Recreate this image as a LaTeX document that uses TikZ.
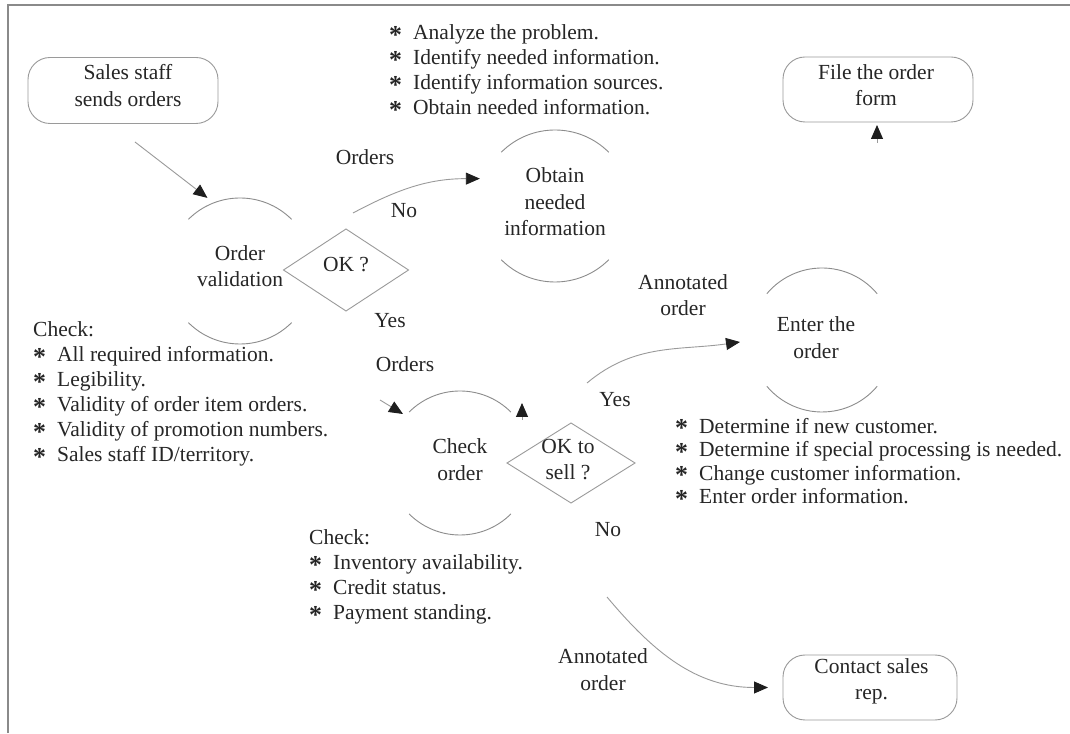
\documentclass[tikz,border=0pt]{standalone}
\usepackage{graphicx}
\usepackage{fontspec}
\setmainfont{Liberation Serif}
\usetikzlibrary{arrows.meta,shapes.geometric}

\definecolor{ink}{HTML}{262626}
\definecolor{edge}{HTML}{9A9A9A}
\definecolor{arcc}{HTML}{8C8C8C}
\definecolor{tipc}{HTML}{1E1E1E}
\definecolor{framec}{HTML}{8A8A8A}

\tikzset{
  txt/.style={font=\fontsize{21.5}{26.5}\selectfont, text=ink, inner sep=0pt, align=center},
  listtxt/.style={font=\fontsize{21.5}{25}\selectfont, text=ink, inner sep=0pt, align=left, anchor=north west},
  terminal/.style={draw=edge, line width=0.9pt, rounded corners=22pt, inner sep=0pt, outer sep=0pt},
  proc/.style={circle, inner sep=0pt, outer sep=0pt, minimum size=#1},
  decision/.style={diamond, draw=edge, line width=0.9pt, inner sep=0pt, outer sep=0pt},
  flow/.style={draw=edge, line width=0.9pt, -{Triangle[length=14pt,width=12pt,color=tipc]}},
  arcline/.style={draw=arcc, line width=0.9pt},
}

% one bullet line of a check list
\newcommand\itm[1]{\makebox[24pt][l]{\raisebox{-3.5pt}{\scalebox{1.2}{\textbf{*}}}}#1}
% top and bottom arcs of a process circle: node, radius, start angle
\newcommand\procarcs[3]{%
  \draw[arcline] ([shift={(#3:#2)}]#1.center) arc[start angle=#3, end angle=180-#3, radius=#2];
  \draw[arcline] ([shift={(180+#3:#2)}]#1.center) arc[start angle=180+#3, end angle=360-#3, radius=#2];
}

\begin{document}
\begin{tikzpicture}[x=1pt,y=1pt]
\useasboundingbox (0,0) rectangle (1070,733);
\fill[white] (0,0) rectangle (1070,733);

% page frame
\draw[framec, line width=1.2pt] (8,0) -- (8,728) -- (1070,728);

% terminals
\node[terminal, minimum width=190pt, minimum height=66pt,
      label={[txt, xshift=5pt, yshift=5pt]center:Sales staff\\sends orders}] (sales) at (123,642.5) {};
\node[terminal, minimum width=190pt, minimum height=65pt,
      label={[txt, xshift=-2pt, yshift=4.5pt]center:File the order\\form}] (file) at (878,643.5) {};
\node[terminal, minimum width=174pt, minimum height=65pt,
      label={[txt, xshift=1.5pt, yshift=6pt]center:Contact sales\\rep.}] (cont) at (870,45.5) {};

% processes
\node[proc=146pt, label={[txt, yshift=5pt]center:Order\\validation}] (ov) at (240,462) {};
\node[proc=152pt, label={[txt, yshift=4.3pt]center:Obtain\\needed\\information}] (obt) at (555,527) {};
\node[proc=144pt, label={[txt, xshift=-6pt, yshift=2.5pt]center:Enter the\\order}] (ent) at (822,393) {};
\node[proc=144pt, label={[txt, yshift=3.5pt]center:Check\\order}] (chk) at (460,270) {};
\procarcs{ov}{73}{45}
\procarcs{obt}{76}{45}
\procarcs{ent}{72}{40}
\procarcs{chk}{72}{45}

% decisions
\node[decision, minimum width=125pt, minimum height=82pt,
      label={[txt, yshift=5.5pt]center:OK ?}] (okv) at (346,463) {};
\node[decision, minimum width=128pt, minimum height=80pt,
      label={[txt, xshift=-3pt, yshift=3.5pt]center:OK to\\sell ?}] (okd) at (571,270) {};

% connectors
\draw[flow] ([shift={(12,-18.5)}]sales.south) -- ([shift={(114:80)}]ov.center);
\draw[flow] ([shift={(7,16)}]okv.north) to[out=28, in=180] ([shift={(160:80)}]obt.center);
\draw[flow] ([shift={(-80,63)}]chk.center) -- ([shift={(-57,49)}]chk.center);
\draw[flow] ([shift={(62,43)}]chk.center) -- ([shift={(62,60)}]chk.center);
\draw[flow] ([shift={(16,40)}]okd.north) to[out=40, in=188] ([shift={(-82,-2)}]ent.center);
\draw[flow] ([shift={(36,-94)}]okd.south) to[out=-50, in=180] ([xshift=-15pt]cont.west);
\draw[flow] ([shift={(-1,-21)}]file.south) -- ([shift={(-1,-3)}]file.south);

% flow labels
\node[txt, anchor=base] (lorders1) at (365,568.2) {Orders};
\node[txt, anchor=base] (lno1) at (404,515.2) {No};
\node[txt, anchor=base] (lyes1) at (390,405.2) {Yes};
\node[txt, anchor=base] (lorders2) at (405,361.2) {Orders};
\node[txt, anchor=base] (lyes2) at (615,326.2) {Yes};
\node[txt, anchor=base] (lno2) at (608,196.2) {No};
\node[txt] (lann1) at (683,438) {Annotated\\order};
\node[txt] (lann2) at (603,63.5) {Annotated\\order};

% check lists
\node[listtxt] (ltop) at (389,708.2) {\rule{0pt}{15pt}\itm{Analyze the problem.}\\
  \itm{Identify needed information.}\\
  \itm{Identify information sources.}\\
  \itm{Obtain needed information.}};
\node[listtxt] (lleft) at (33,411.2) {\rule{0pt}{15pt}Check:\\
  \itm{All required information.}\\
  \itm{Legibility.}\\
  \itm{Validity of order item orders.}\\
  \itm{Validity of promotion numbers.}\\
  \itm{Sales staff ID/territory.}};
\node[listtxt] (lbot) at (309,203.2) {\rule{0pt}{15pt}Check:\\
  \itm{Inventory availability.}\\
  \itm{Credit status.}\\
  \itm{Payment standing.}};
\node[listtxt, font=\fontsize{21.5}{23.5}\selectfont] (lright) at (675,315.2) {\rule{0pt}{15pt}\itm{Determine if new customer.}\\
  \itm{Determine if special processing is needed.}\\
  \itm{Change customer information.}\\
  \itm{Enter order information.}};
\end{tikzpicture}
\end{document}
